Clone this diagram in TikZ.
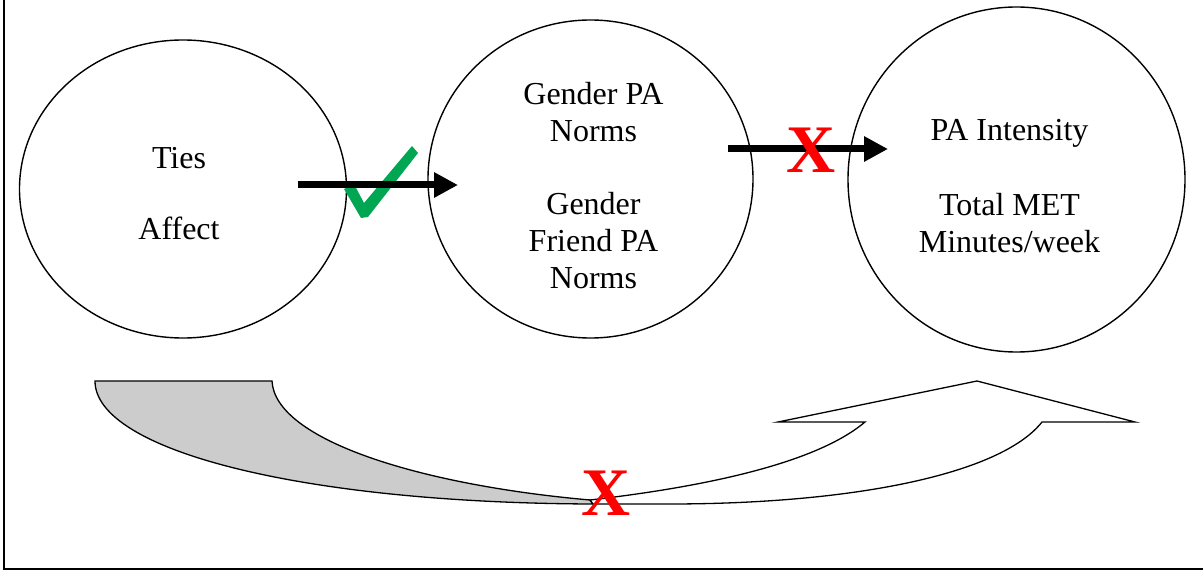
\documentclass[tikz,border=0pt]{standalone}
\usepackage{fontspec}
\setmainfont{Liberation Serif}
\usetikzlibrary{shapes.geometric,arrows.meta}
\definecolor{okgreen}{RGB}{0,166,81}
\begin{document}
\begin{tikzpicture}[x=1pt,y=-1pt,
  construct/.style={ellipse,draw,line width=1.4pt,inner sep=0pt},
  caption/.style={inner sep=0pt,align=center,font=\fontsize{32}{37}\selectfont},
  flow/.style={line width=7pt,-{Triangle[length=24pt,width=24pt]}},
  cross/.style={text=red,inner sep=0pt,font=\fontsize{68}{68}\selectfont\bfseries},
  band/.style={draw,line width=1.3pt,line join=miter}]
\useasboundingbox (0,0) rectangle (1203,572);
% frame
\draw[line width=1.5pt] (4,0) -- (4,569) -- (1203,569);

% constructs
\node[construct,minimum width=327pt,minimum height=298pt] (ties) at (183,189) {};
\node[construct,minimum width=325pt,minimum height=318pt] (norms) at (590.5,179) {};
\node[construct,minimum width=337pt,minimum height=345pt] (intensity) at (1016.5,179.5) {};
\node[caption] (tiestext) at ([shift={(-4,5)}]ties.center) {Ties\\[34pt]Affect};
\node[caption] (normstext) at ([shift={(3,7)}]norms.center)
  {Gender PA\\Norms\\[36pt]Gender\\Friend PA\\Norms};
\node[caption] (intensitytext) at ([shift={(-7,7)}]intensity.center)
  {PA Intensity\\[38pt]Total MET\\Minutes/week};

% supported path: check mark
\fill[okgreen]
  (344,189) -- (354,184) -- (364,203) -- (412,146) -- (418,153) -- (368,217) -- (361,218) -- cycle;

% arrows between constructs
\coordinate (a1s) at (298,185);
\coordinate (a1e) at (458,185);
\coordinate (a2s) at (728,149);
\coordinate (a2e) at (888,149);
\draw[flow] (a1s) -- (a1e);
\draw[flow] (a2s) -- (a2e);
\node[cross] (x1) at (811,150) {X};

% curved direct-path arrow: back face
\draw[band,fill=black!20] (95,381) -- (272,381)
  .. controls (275,440) and (420,485) .. (590,500) -- (593,504)
  .. controls (300,503) and (95,450) .. cycle;
% front face with head
\draw[band,fill=white] (590,500)
  .. controls (720,485) and (820,460) .. (865,422) -- (778,422) -- (977,381)
  -- (1135,422) -- (1042,422)
  .. controls (1000,475) and (850,504) .. (669,504) -- (593,504) -- cycle;
\node[cross] (x2) at (606,493) {X};
\end{tikzpicture}
\end{document}
